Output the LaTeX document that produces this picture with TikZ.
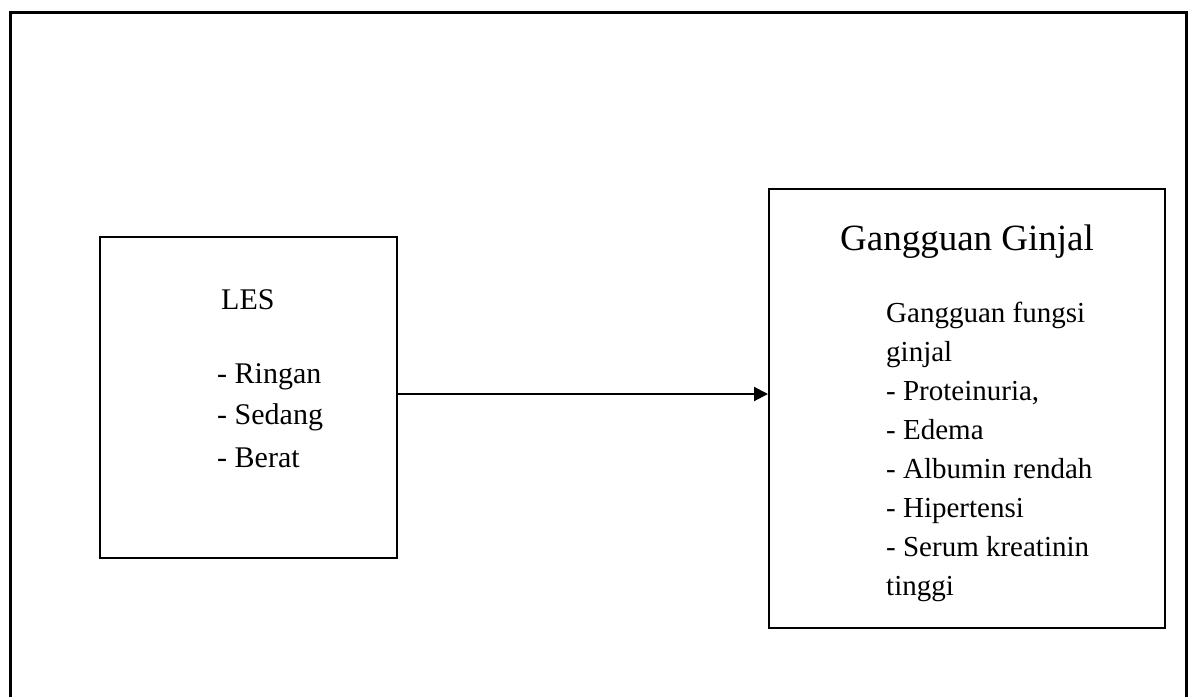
\documentclass[tikz,border=0pt]{standalone}
\usepackage{fontspec}
\setmainfont{Liberation Serif}
\usetikzlibrary{arrows.meta}
\begin{document}
\begin{tikzpicture}[x=1pt,y=-1pt,
  box/.style={draw=black, line width=2pt, rectangle, inner sep=0pt},
  frameline/.style={draw=black, line width=3pt},
  txt/.style={inner sep=0pt, anchor=base west, font=\fontsize{29}{34}\selectfont},
  ltxt/.style={inner sep=0pt, anchor=base west, font=\fontsize{30}{36}\selectfont},
  head/.style={inner sep=0pt, anchor=base, font=\fontsize{37}{44}\selectfont},
  conn/.style={draw=black, line width=2pt, -{Triangle[length=14pt,width=14pt]}}]
\path[use as bounding box, clip] (0,0) rectangle (1191,696);
% outer frame (open at the bottom)
\coordinate (fbl) at (10,760);
\coordinate (ftl) at (10,12);
\coordinate (ftr) at (1186,12);
\coordinate (fbr) at (1186,760);
\draw[frameline] (fbl) -- (ftl) -- (ftr) -- (fbr);
% boxes
\node[box, minimum width=297pt, minimum height=321pt] (les) at (248.5,397.5) {};
\node[box, minimum width=396pt, minimum height=439pt] (gg) at (967,408.5) {};
% left texts
\node[ltxt] (t1) at (221,309) {LES};
\node[ltxt] (t2) at (217,383) {- Ringan};
\node[ltxt] (t3) at (217,424.5) {- Sedang};
\node[ltxt] (t4) at (217,467) {- Berat};
% right texts
\node[head] (h) at (967,250) {Gangguan Ginjal};
\node[txt] (r1) at (886,322.7) {Gangguan fungsi};
\node[txt] (r2) at (886,361.6) {ginjal};
\node[txt] (r3) at (886,400.5) {- Proteinuria,};
\node[txt] (r4) at (886,439.4) {- Edema};
\node[txt] (r5) at (886,478.3) {- Albumin rendah};
\node[txt] (r6) at (886,517.2) {- Hipertensi};
\node[txt] (r7) at (886,556.1) {- Serum kreatinin};
\node[txt] (r8) at (886,595) {tinggi};
% connector
\coordinate (a1) at (397,394);
\draw[conn] (les.east |- a1) -- (gg.west |- a1);
\end{tikzpicture}
\end{document}
